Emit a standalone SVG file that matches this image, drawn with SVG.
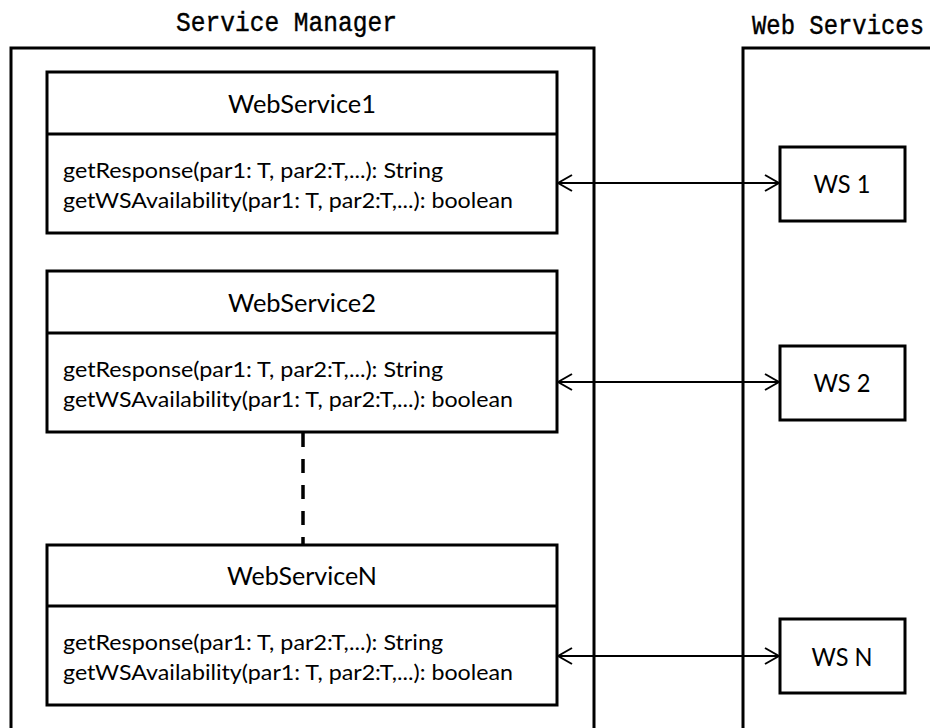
<svg xmlns="http://www.w3.org/2000/svg" width="930" height="728" viewBox="0 0 930 728">
  <style>
    .frame { fill: none; stroke: #000; stroke-width: 3; }
    .box { fill: #fff; stroke: #000; stroke-width: 3; }
    .sep { stroke: #000; stroke-width: 3; }
    .heading { font-family: "Liberation Mono", "DejaVu Sans Mono", monospace; font-size: 27px; fill: #000; stroke: #000; stroke-width: 0.4; }
    .title { font-family: Lato, "Noto Sans", sans-serif; font-size: 25px; fill: #000; text-anchor: middle; }
    .op { font-family: Lato, "Noto Sans", sans-serif; font-size: 22px; fill: #000; }
    .ws { font-family: Lato, "Noto Sans", sans-serif; font-size: 25px; fill: #000; text-anchor: middle; }
    .link { stroke: #000; stroke-width: 2; fill: none; marker-start: url(#head); marker-end: url(#head); }
    .dots { stroke: #000; stroke-width: 3.5; stroke-dasharray: 14 12; fill: none; }
  </style>
  <defs>
    <marker id="head" viewBox="0 0 16 18" refX="15" refY="9" markerWidth="16" markerHeight="18" markerUnits="userSpaceOnUse" orient="auto-start-reverse">
      <path d="M1,1 L15,9 L1,17" fill="none" stroke="#000" stroke-width="2"/>
    </marker>
  </defs>

  <rect width="930" height="728" fill="#fff"/>

  <!-- container frames -->
  <g id="service-manager">
    <text class="heading" x="176" y="31" textLength="221" lengthAdjust="spacingAndGlyphs">Service Manager</text>
    <path class="frame" d="M11,740 V48 H594 V740"/>
  </g>
  <g id="web-services">
    <text class="heading" x="752" y="34" font-size="24" textLength="172" lengthAdjust="spacingAndGlyphs">Web Services</text>
    <path class="frame" d="M743,740 V48 H940"/>
  </g>

  <!-- manager-side classes -->
  <g id="webservice1">
    <rect class="box" x="47" y="72" width="510" height="161"/>
    <line class="sep" x1="47" y1="134" x2="557" y2="134"/>
    <text class="title" x="302" y="113" textLength="148" lengthAdjust="spacingAndGlyphs">WebService1</text>
    <text class="op" x="63" y="178" textLength="380" lengthAdjust="spacingAndGlyphs">getResponse(par1: T, par2:T,...): String</text>
    <text class="op" x="63" y="208" textLength="450" lengthAdjust="spacingAndGlyphs">getWSAvailability(par1: T, par2:T,...): boolean</text>
  </g>
  <g id="webservice2">
    <rect class="box" x="47" y="271" width="510" height="161"/>
    <line class="sep" x1="47" y1="333" x2="557" y2="333"/>
    <text class="title" x="302" y="312" textLength="148" lengthAdjust="spacingAndGlyphs">WebService2</text>
    <text class="op" x="63" y="377" textLength="380" lengthAdjust="spacingAndGlyphs">getResponse(par1: T, par2:T,...): String</text>
    <text class="op" x="63" y="407" textLength="450" lengthAdjust="spacingAndGlyphs">getWSAvailability(par1: T, par2:T,...): boolean</text>
  </g>
  <g id="webserviceN">
    <rect class="box" x="47" y="545" width="510" height="160"/>
    <line class="sep" x1="47" y1="606" x2="557" y2="606"/>
    <text class="title" x="302" y="585" textLength="150" lengthAdjust="spacingAndGlyphs">WebServiceN</text>
    <text class="op" x="63" y="650" textLength="380" lengthAdjust="spacingAndGlyphs">getResponse(par1: T, par2:T,...): String</text>
    <text class="op" x="63" y="680" textLength="450" lengthAdjust="spacingAndGlyphs">getWSAvailability(par1: T, par2:T,...): boolean</text>
  </g>

  <!-- remote services -->
  <g id="ws1">
    <rect class="box" x="780" y="147" width="125" height="74"/>
    <text class="ws" x="842" y="193" textLength="57" lengthAdjust="spacingAndGlyphs">WS 1</text>
  </g>
  <g id="ws2">
    <rect class="box" x="780" y="346" width="125" height="74"/>
    <text class="ws" x="842" y="392" textLength="57" lengthAdjust="spacingAndGlyphs">WS 2</text>
  </g>
  <g id="wsN">
    <rect class="box" x="780" y="619" width="125" height="74"/>
    <text class="ws" x="842" y="666" textLength="61" lengthAdjust="spacingAndGlyphs">WS N</text>
  </g>

  <!-- connectors -->
  <g id="connectors">
    <line class="link" x1="558" y1="183" x2="779" y2="183"/>
    <line class="link" x1="558" y1="382" x2="779" y2="382"/>
    <line class="link" x1="558" y1="656" x2="779" y2="656"/>
    <line class="dots" x1="303" y1="433" x2="303" y2="545"/>
  </g>
</svg>
